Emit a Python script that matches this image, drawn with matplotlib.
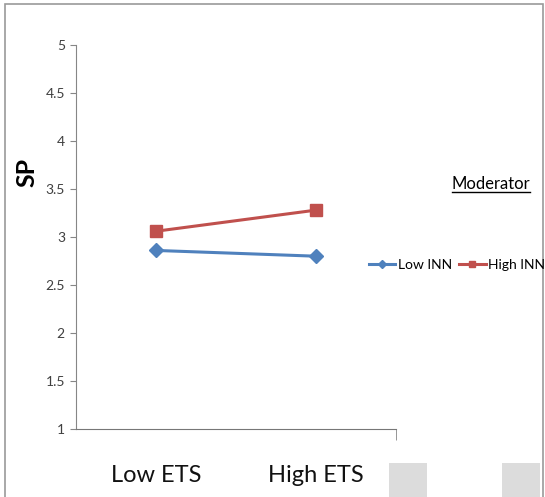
from matplotlib.lines import Line2D
from matplotlib.patches import Rectangle
import matplotlib

matplotlib.use("Agg")
import matplotlib.pyplot as plt

plt.rcParams["font.family"] = ["Lato", "DejaVu Sans"]

# datos
categorias = ["Low ETS", "High ETS"]
low_inn = [2.86, 2.80]
high_inn = [3.06, 3.28]
yticks = [1, 1.5, 2, 2.5, 3, 3.5, 4, 4.5, 5]
ytick_labels = ["1", "1.5", "2", "2.5", "3", "3.5", "4", "4.5", "5"]

AZUL = "#4F81BD"
ROJO = "#C0504D"
GRIS = "#868686"

W, H = 545, 497
fig = plt.figure(figsize=(W / 100, H / 100), dpi=100)


def fx(px):
    return px / W


def fy(py):
    return 1 - py / H


# marco exterior y recuadros grises de abajo
fig.patches.append(Rectangle((fx(5), fy(520)), fx(538), 516 / H, transform=fig.transFigure,
                             fill=False, edgecolor="#9a9a9a", lw=1.2))
for x0 in (389, 502):
    fig.patches.append(Rectangle((fx(x0), 0), fx(38), 34 / H, transform=fig.transFigure,
                                 facecolor="#dcdcdc", edgecolor="none"))

ax = fig.add_axes([fx(76), fy(429), fx(396) - fx(76), fy(45) - fy(429)])
x = list(range(len(categorias)))
ax.plot(x, low_inn, color=AZUL, lw=2.2, marker="D", ms=7, label="Low INN")
ax.plot(x, high_inn, color=ROJO, lw=2.2, marker="s", ms=8, label="High INN")

ax.set_xlim(-0.5, 1.5)
ax.set_ylim(1, 5)
ax.set_yticks(yticks)
ax.set_yticklabels(ytick_labels)
ax.set_xticks(x)
ax.set_xticklabels(categorias)
ax.set_xticks([1.5], minor=True)

for lado in ("top", "right"):
    ax.spines[lado].set_visible(False)
ax.spines["left"].set_color(GRIS)
ax.spines["bottom"].set_color("#777777")
ax.tick_params(axis="y", length=4, color=GRIS, labelsize=10, labelcolor="#404040", pad=4)
ax.tick_params(axis="x", which="major", length=0, labelsize=17, labelcolor="#111111", pad=26)
ax.tick_params(axis="x", which="minor", length=8, color=GRIS)

fig.text(fx(27), fy(172), "SP", rotation=90, fontsize=18, fontweight="bold",
         ha="center", va="center")

fig.text(fx(491), fy(184), "Moderator", fontsize=12, ha="center", va="center")
fig.lines.append(Line2D([fx(452), fx(530)], [fy(192), fy(192)], transform=fig.transFigure,
                        color="black", lw=1))

fig.legend(*ax.get_legend_handles_labels(), loc="center left",
           bbox_to_anchor=(fx(369), fy(265)), ncol=2, frameon=False, fontsize=10,
           handlelength=1.9, handletextpad=0.2, columnspacing=0.5,
           borderpad=0, borderaxespad=0, markerscale=0.6)

fig.savefig("out.png", dpi=100)
